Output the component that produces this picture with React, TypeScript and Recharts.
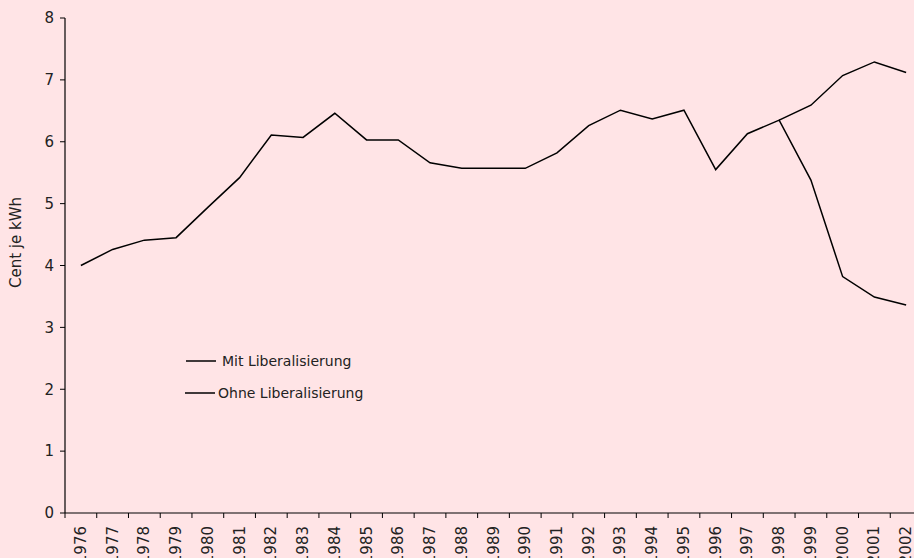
import React from 'react';
import { LineChart, Line, XAxis, YAxis, Legend } from 'recharts';

const years = [1976, 1977, 1978, 1979, 1980, 1981, 1982, 1983, 1984, 1985, 1986, 1987, 1988, 1989, 1990, 1991, 1992, 1993, 1994, 1995, 1996, 1997, 1998, 1999, 2000, 2001, 2002];
const mitLiberalisierung = [4.0, 4.26, 4.41, 4.45, 4.94, 5.42, 6.11, 6.07, 6.46, 6.03, 6.03, 5.66, 5.57, 5.57, 5.57, 5.82, 6.26, 6.51, 6.37, 6.51, 5.55, 6.13, 6.35, 5.38, 3.82, 3.49, 3.36];
const ohneLiberalisierung: (number | null)[] = [null, null, null, null, null, null, null, null, null, null, null, null, null, null, null, null, null, null, null, null, null, null, 6.35, 6.59, 7.07, 7.29, 7.12];
const yTicks = [0, 1, 2, 3, 4, 5, 6, 7, 8];
const boundaryTicks = [...years.map((y) => y - 0.5), years[years.length - 1] + 0.5];

const data = years.map((year, i) => ({
  year,
  mit: mitLiberalisierung[i],
  ohne: ohneLiberalisierung[i],
}));

const FONT = '"DejaVu Sans", sans-serif';
const BG = '#FFE4E6';

const XTick = (props: any) => {
  const { x, y, payload } = props;
  const v = payload.value as number;
  if (Number.isInteger(v)) {
    return (
      <text
        x={x}
        y={y}
        transform={`rotate(-90, ${x}, ${y})`}
        textAnchor="end"
        dominantBaseline="central"
        fontFamily={FONT}
        fontSize={15}
        fill="#222"
      >
        {v}
      </text>
    );
  }
  return <line x1={x} x2={x} y1={y - 13} y2={y - 8} stroke="#000" strokeWidth={1} />;
};

const YLabel = (props: any) => {
  const vb = props.viewBox || {};
  const cx = 16;
  const cy = (vb.y ?? 18) + (vb.height ?? 495) / 2 - 23;
  return (
    <text
      x={cx}
      y={cy}
      transform={`rotate(-90, ${cx}, ${cy})`}
      textAnchor="middle"
      dominantBaseline="central"
      fontFamily={FONT}
      fontSize={15}
      fill="#222"
    >
      Cent je kWh
    </text>
  );
};

const LegendContent = () => (
  <div style={{ fontFamily: FONT, fontSize: 14, color: '#222', lineHeight: '20px' }}>
    <div style={{ display: 'flex', alignItems: 'center', height: 20, marginLeft: 1 }}>
      <svg width={30} height={4} style={{ marginRight: 6 }}>
        <line x1={0} x2={30} y1={2} y2={2} stroke="#000" strokeWidth={1.5} />
      </svg>
      <span>Mit Liberalisierung</span>
    </div>
    <div style={{ display: 'flex', alignItems: 'center', height: 20, marginTop: 12 }}>
      <svg width={30} height={4} style={{ marginRight: 3 }}>
        <line x1={0} x2={30} y1={2} y2={2} stroke="#000" strokeWidth={1.5} />
      </svg>
      <span>Ohne Liberalisierung</span>
    </div>
  </div>
);

export default function App() {
  return (
    <div style={{ position: 'fixed', left: 0, top: 0, width: 914, height: 558, overflow: 'hidden', background: BG }}>
      <LineChart width={930} height={558} data={data} margin={{ top: 18, right: 8, bottom: 15, left: 0 }}>
        <XAxis
          dataKey="year"
          type="number"
          domain={[1975.5, 2002.5]}
          ticks={[...boundaryTicks, ...years]}
          interval={0}
          height={30}
          tickLine={false}
          tickSize={5}
          tickMargin={8}
          tick={<XTick />}
          axisLine={{ stroke: '#000', strokeWidth: 1.2 }}
          allowDataOverflow
        />
        <YAxis
          type="number"
          domain={[0, 8]}
          ticks={yTicks}
          width={65}
          tickSize={5}
          tickMargin={6}
          axisLine={{ stroke: '#000', strokeWidth: 1.2 }}
          tickLine={{ stroke: '#000' }}
          tick={{ fontFamily: FONT, fontSize: 15, fill: '#222' }}
          label={<YLabel />}
        />
        <Legend
          layout="vertical"
          verticalAlign="middle"
          align="center"
          content={<LegendContent />}
          wrapperStyle={{ position: 'absolute', left: 185, top: 351, width: 220 }}
        />
        <Line type="linear" dataKey="mit" name="Mit Liberalisierung" stroke="#000" strokeWidth={1.5} dot={false} isAnimationActive={false} />
        <Line type="linear" dataKey="ohne" name="Ohne Liberalisierung" stroke="#000" strokeWidth={1.5} dot={false} isAnimationActive={false} />
      </LineChart>
    </div>
  );
}
